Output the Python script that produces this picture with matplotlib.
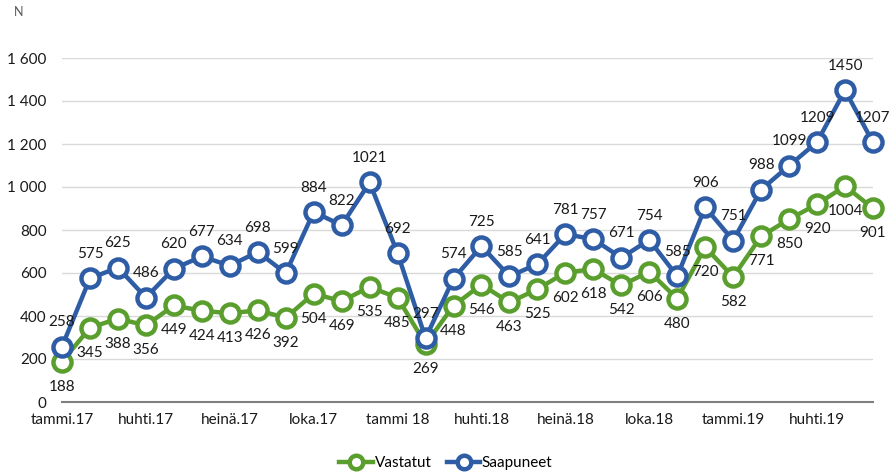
import matplotlib.pyplot as plt

plt.rcParams["font.family"] = ["Lato", "DejaVu Sans"]

tick_labels = ["tammi.17", "huhti.17", "heinä.17", "loka.17", "tammi 18",
               "huhti.18", "heinä.18", "loka.18", "tammi.19", "huhti.19"]

vastatut = [188, 345, 388, 356, 449, 424, 413, 426, 392, 504, 469, 535,
            485, 269, 448, 546, 463, 525, 602, 618, 542, 606, 480, 720,
            582, 771, 850, 920, 1004, 901]
saapuneet = [258, 575, 625, 486, 620, 677, 634, 698, 599, 884, 822, 1021,
             692, 297, 574, 725, 585, 641, 781, 757, 671, 754, 585, 906,
             751, 988, 1099, 1209, 1450, 1207]

GREEN = "#5A9E2E"
BLUE = "#2E5DA6"

fig = plt.figure(figsize=(8.92, 4.75), dpi=100)
ax = fig.add_axes([62 / 892, 1 - 402 / 475, (873 - 62) / 892, (402 - 58) / 475])

x = list(range(len(vastatut)))
style = dict(linewidth=3.2, marker="o", markersize=13, markerfacecolor="white",
             markeredgewidth=3.2, solid_joinstyle="round", clip_on=False)
ax.plot(x, vastatut, color=GREEN, label="Vastatut", zorder=3, **style)
ax.plot(x, saapuneet, color=BLUE, label="Saapuneet", zorder=4, **style)

for xi, v in zip(x, vastatut):
    ax.annotate(str(v), (xi, v), xytext=(0, -18), textcoords="offset points",
                ha="center", va="center", fontsize=11, color="#1a1a1a", zorder=5)
for xi, v in zip(x, saapuneet):
    ax.annotate(str(v), (xi, v), xytext=(0, 17.5), textcoords="offset points",
                ha="center", va="center", fontsize=11, color="#1a1a1a", zorder=5)

ax.set_xlim(0, len(x) - 1)
ax.set_ylim(0, 1600)
yt = list(range(0, 1601, 200))
ax.set_yticks(yt)
ax.set_yticklabels([f"{v:,}".replace(",", " ") for v in yt])
ax.set_xticks(range(0, len(x), 3))
ax.set_xticklabels(tick_labels)
ax.tick_params(axis="both", length=0, labelsize=11, colors="#1a1a1a")
ax.tick_params(axis="y", pad=11)
ax.tick_params(axis="x", pad=8)

ax.grid(axis="y", color="#d9d9d9", linewidth=1)
ax.set_axisbelow(True)
for side in ["top", "right", "left"]:
    ax.spines[side].set_visible(False)
ax.spines["bottom"].set_color("#808080")
ax.spines["bottom"].set_linewidth(1.5)

fig.text(14 / 892, 1 - 12 / 475, "N", fontsize=9, color="#595959", va="center")

fig.legend(loc="center", bbox_to_anchor=(0.5, 1 - 463 / 475), ncol=2, frameon=False,
           fontsize=11, handlelength=2.2, handletextpad=0.1, columnspacing=1.0,
           markerscale=0.75)

fig.savefig("out.png", dpi=100)
